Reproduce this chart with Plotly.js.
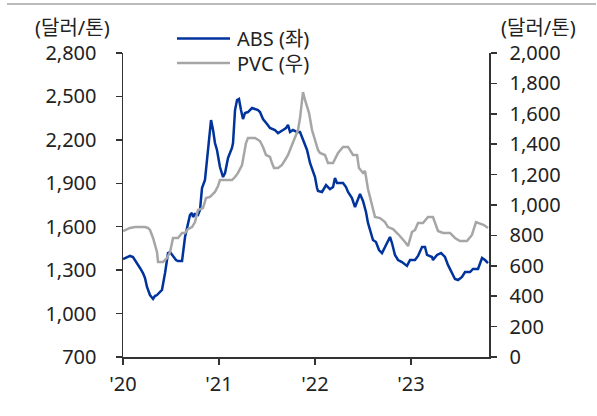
<!DOCTYPE html>
<html>
<head>
<meta charset="utf-8">
<script src="https://cdn.plot.ly/plotly-3.0.1.min.js"></script>
<style>html,body{margin:0;padding:0;background:#fff;}#chart{width:597px;height:416px;}</style>
</head>
<body>
<div id="chart"></div>
<script>
// ---- data ----
const xTickVals = [2020, 2021, 2022, 2023];
const xTickText = ["'20", "'21", "'22", "'23"];

const absYear = [2020.000,2020.042,2020.073,2020.104,2020.125,2020.156,2020.177,2020.208,2020.229,2020.250,2020.281,2020.313,2020.333,2020.354,2020.385,2020.406,2020.438,2020.469,2020.490,2020.521,2020.552,2020.573,2020.615,2020.646,2020.677,2020.698,2020.719,2020.729,2020.750,2020.781,2020.802,2020.823,2020.854,2020.885,2020.906,2020.917,2020.938,2020.958,2020.979,2021.010,2021.042,2021.063,2021.094,2021.135,2021.146,2021.167,2021.188,2021.208,2021.229,2021.250,2021.271,2021.302,2021.344,2021.375,2021.406,2021.427,2021.458,2021.500,2021.531,2021.583,2021.615,2021.667,2021.698,2021.719,2021.740,2021.771,2021.813,2021.844,2021.875,2021.917,2021.948,2021.979,2022.000,2022.021,2022.031,2022.073,2022.115,2022.156,2022.188,2022.208,2022.229,2022.292,2022.323,2022.344,2022.385,2022.417,2022.438,2022.469,2022.500,2022.531,2022.552,2022.573,2022.604,2022.635,2022.667,2022.698,2022.729,2022.760,2022.781,2022.802,2022.833,2022.865,2022.906,2022.958,2022.990,2023.042,2023.073,2023.115,2023.146,2023.167,2023.219,2023.229,2023.271,2023.313,2023.354,2023.385,2023.427,2023.458,2023.490,2023.531,2023.563,2023.615,2023.646,2023.698,2023.740,2023.771,2023.802];
const absVal = [1377,1391,1398,1391,1370,1342,1315,1280,1246,1184,1128,1101,1121,1128,1149,1163,1280,1418,1425,1398,1370,1363,1363,1529,1626,1681,1695,1667,1688,1681,1715,1867,1923,2130,2303,2337,2268,2178,2130,2012,1943,1971,2075,2144,2178,2406,2475,2482,2406,2344,2386,2392,2420,2413,2406,2392,2344,2310,2282,2268,2247,2268,2282,2303,2254,2268,2254,2254,2199,2130,2040,1978,1943,1867,1847,1840,1888,1860,1874,1936,1902,1902,1874,1840,1798,1736,1771,1826,1778,1702,1626,1577,1508,1494,1439,1418,1460,1494,1529,1487,1405,1370,1356,1329,1370,1370,1398,1460,1460,1405,1391,1370,1405,1418,1391,1336,1280,1239,1232,1253,1287,1287,1308,1308,1384,1370,1349];

const pvcYear = [2020.000,2020.042,2020.073,2020.125,2020.229,2020.260,2020.281,2020.313,2020.333,2020.354,2020.365,2020.417,2020.458,2020.490,2020.521,2020.573,2020.615,2020.646,2020.677,2020.719,2020.750,2020.781,2020.833,2020.865,2020.906,2020.958,2020.990,2021.010,2021.083,2021.135,2021.167,2021.198,2021.240,2021.260,2021.281,2021.302,2021.375,2021.427,2021.458,2021.490,2021.531,2021.552,2021.573,2021.615,2021.656,2021.688,2021.719,2021.760,2021.792,2021.823,2021.844,2021.854,2021.875,2021.896,2021.917,2021.938,2021.969,2022.000,2022.031,2022.052,2022.104,2022.135,2022.188,2022.240,2022.292,2022.344,2022.396,2022.438,2022.458,2022.500,2022.521,2022.552,2022.594,2022.625,2022.677,2022.729,2022.760,2022.813,2022.865,2022.906,2022.938,2022.969,2022.990,2023.010,2023.042,2023.073,2023.125,2023.177,2023.229,2023.281,2023.333,2023.406,2023.458,2023.510,2023.583,2023.635,2023.677,2023.708,2023.760,2023.802];
const pvcVal = [829,842,849,855,855,849,836,783,737,691,625,625,651,691,783,783,816,816,842,855,888,967,980,1046,1053,1086,1125,1164,1164,1164,1184,1211,1263,1329,1408,1441,1441,1421,1382,1329,1316,1276,1243,1243,1263,1296,1329,1395,1441,1493,1572,1638,1743,1691,1645,1605,1493,1428,1362,1342,1329,1276,1276,1342,1382,1382,1329,1329,1243,1211,1224,1105,987,921,914,888,855,842,809,783,757,730,770,822,836,882,882,921,921,829,816,816,783,763,763,803,888,882,868,849];

const seriesNames = ["ABS (좌)", "PVC (우)"];
const unitLabel = "(달러/톤)";

// ---- styles ----
const ABS_COLOR = "#00339C";
const PVC_COLOR = "#A6A6A6";
const FONT = "'Noto Sans', 'Noto Sans CJK KR', sans-serif";
const TXT = "#222222";
const AX = "#333333";
const FS = 20;

const traces = [
  {x: absYear, y: absVal, type: "scatter", mode: "lines", name: seriesNames[0],
   line: {color: ABS_COLOR, width: 2.5}, yaxis: "y", showlegend: false},
  {x: pvcYear, y: pvcVal, type: "scatter", mode: "lines", name: seriesNames[1],
   line: {color: PVC_COLOR, width: 2.5}, yaxis: "y2", showlegend: false}
];

// legend drawn as paper-coordinate shapes/annotations (plot area 123..489 x 53..357 px)
const W = 366, H = 304, L = 123, T = 53;
const px = v => (v - L) / W;
const py = v => (T + H - v) / H;

const layout = {
  width: 597, height: 416,
  margin: {l: 123, r: 108, t: 53, b: 59},
  paper_bgcolor: "#fff", plot_bgcolor: "#fff",
  font: {family: FONT, size: FS, color: TXT},
  showlegend: false,
  xaxis: {
    type: "linear", range: [2020, 2023.8125],
    tickvals: xTickVals, ticktext: xTickText,
    ticks: "outside", ticklen: 6, tickwidth: 1.5, tickcolor: AX,
    showline: true, linecolor: AX, linewidth: 1.5,
    showgrid: false, zeroline: false, ticklabelstandoff: 2,
    tickfont: {family: FONT, size: FS, color: TXT}
  },
  yaxis: {
    range: [700, 2800], dtick: 300, tick0: 700, tickformat: ",d",
    ticks: "outside", ticklen: 6, tickwidth: 1.5, tickcolor: AX,
    showline: true, linecolor: AX, linewidth: 1.5,
    showgrid: false, zeroline: false, ticklabelstandoff: 15,
    tickfont: {family: FONT, size: FS, color: TXT}
  },
  yaxis2: {
    range: [0, 2000], dtick: 200, tick0: 0, tickformat: ",d",
    overlaying: "y", side: "right",
    ticks: "outside", ticklen: 6, tickwidth: 1.5, tickcolor: AX,
    showline: true, linecolor: AX, linewidth: 1.5,
    showgrid: false, zeroline: false, ticklabelstandoff: 9,
    tickfont: {family: FONT, size: FS, color: TXT}
  },
  shapes: [
    {type: "line", xref: "paper", yref: "paper", x0: px(7), x1: px(596), y0: py(4), y1: py(4),
     line: {color: "#BBBBBB", width: 2}},
    {type: "line", xref: "paper", yref: "paper", x0: px(177), x1: px(230), y0: py(38.5), y1: py(38.5),
     line: {color: ABS_COLOR, width: 2.5}},
    {type: "line", xref: "paper", yref: "paper", x0: px(177), x1: px(230), y0: py(63), y1: py(63),
     line: {color: PVC_COLOR, width: 2.5}}
  ],
  annotations: [
    {xref: "paper", yref: "paper", x: px(235), y: py(38.5), text: seriesNames[0], showarrow: false,
     xanchor: "left", yanchor: "middle", font: {family: FONT, size: FS, color: TXT}},
    {xref: "paper", yref: "paper", x: px(235), y: py(63), text: seriesNames[1], showarrow: false,
     xanchor: "left", yanchor: "middle", font: {family: FONT, size: FS, color: TXT}},
    {xref: "paper", yref: "paper", x: px(72), y: py(27), text: unitLabel, showarrow: false,
     xanchor: "center", yanchor: "middle", font: {family: FONT, size: FS, color: TXT}},
    {xref: "paper", yref: "paper", x: px(538), y: py(27), text: unitLabel, showarrow: false,
     xanchor: "center", yanchor: "middle", font: {family: FONT, size: FS, color: TXT}}
  ]
};

Plotly.newPlot("chart", traces, layout, {staticPlot: true, displayModeBar: false});
</script>
</body>
</html>
